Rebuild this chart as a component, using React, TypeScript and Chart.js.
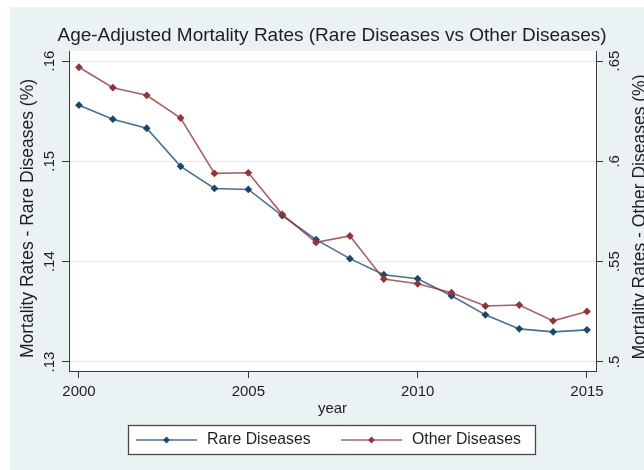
import React, { useEffect, useRef } from 'react';
import { Chart, registerables } from 'chart.js';

Chart.register(...registerables);

// ---- data ----
const YEARS = [2000, 2001, 2002, 2003, 2004, 2005, 2006, 2007, 2008, 2009, 2010, 2011, 2012, 2013, 2014, 2015];
const RARE = [0.1556, 0.1542, 0.1533, 0.1495, 0.1473, 0.1472, 0.1446, 0.1422, 0.1403, 0.1387, 0.1383, 0.1366, 0.1347, 0.1333, 0.1330, 0.1332];
const OTHER = [0.6469, 0.6367, 0.6329, 0.6216, 0.5940, 0.5943, 0.5736, 0.5596, 0.5628, 0.5413, 0.5390, 0.5345, 0.5279, 0.5284, 0.5205, 0.5252];
const X_TICKS = [2000, 2005, 2010, 2015];
const LEFT_TICKS = [0.13, 0.14, 0.15, 0.16];
const RIGHT_TICKS = [0.5, 0.55, 0.6, 0.65];
const SERIES_NAMES = ['Rare Diseases', 'Other Diseases'];
const TITLE = 'Age-Adjusted Mortality Rates (Rare Diseases vs Other Diseases)';
const X_TITLE = 'year';
const LEFT_TITLE = 'Mortality Rates - Rare Diseases (%)';
const RIGHT_TITLE = 'Mortality Rates - Other Diseases (%)';

// ---- styles ----
const FONT = '"Liberation Sans", Arial, Helvetica, sans-serif';
const BLUE = '#1a476f';
const RED = '#90353b';
const BLUE_LINE = 'rgba(26,71,111,0.78)';
const RED_LINE = 'rgba(144,53,59,0.78)';
const BG = '#eaf2f3';
const TEXT = '#1c1f26';
const AXIS = '#3a3a3a';

const fmtDec = (v: number) => String(v).replace(/^0\./, '.');

const backgroundPlugin = {
  id: 'stataBackground',
  beforeDraw(chart: any) {
    const { ctx, chartArea } = chart;
    ctx.save();
    ctx.fillStyle = '#ffffff';
    ctx.fillRect(0, 0, chart.width, chart.height);
    ctx.fillStyle = BG;
    ctx.fillRect(10, 7, chart.width - 10, chart.height - 7);
    ctx.fillStyle = '#ffffff';
    ctx.fillRect(chartArea.left, chartArea.top, chartArea.right - chartArea.left, chartArea.bottom - chartArea.top);
    ctx.restore();
  },
};

const decorPlugin = {
  id: 'stataDecor',
  afterDraw(chart: any) {
    const { ctx } = chart;
    ctx.save();
    // y-axis titles (both read bottom-to-top)
    ctx.fillStyle = TEXT;
    ctx.font = `17.5px ${FONT}`;
    ctx.textAlign = 'center';
    ctx.textBaseline = 'middle';
    const drawVert = (text: string, x: number, y: number) => {
      ctx.save();
      ctx.translate(x, y);
      ctx.rotate(-Math.PI / 2);
      ctx.fillText(text, 0, 0);
      ctx.restore();
    };
    drawVert(LEFT_TITLE, 28.5, 218.5);
    drawVert(RIGHT_TITLE, 640, 217);

    // legend
    const bx = 128.5, by = 425.5, bw = 407, bh = 29;
    ctx.fillStyle = '#ffffff';
    ctx.fillRect(bx, by, bw, bh);
    ctx.strokeStyle = '#4a4a4a';
    ctx.lineWidth = 1.3;
    ctx.strokeRect(bx, by, bw, bh);
    const cy = 440;
    const starts = [136, 341];
    chart.data.datasets.forEach((ds: any, i: number) => {
      const x0 = starts[i];
      const x1 = x0 + 61;
      ctx.strokeStyle = ds.borderColor;
      ctx.lineWidth = 1.4;
      ctx.beginPath();
      ctx.moveTo(x0, cy);
      ctx.lineTo(x1, cy);
      ctx.stroke();
      const mx = (x0 + x1) / 2;
      const r = 3.4;
      ctx.fillStyle = ds.pointBackgroundColor;
      ctx.beginPath();
      ctx.moveTo(mx, cy - r);
      ctx.lineTo(mx + r, cy);
      ctx.lineTo(mx, cy + r);
      ctx.lineTo(mx - r, cy);
      ctx.closePath();
      ctx.fill();
      ctx.fillStyle = TEXT;
      ctx.font = `15.8px ${FONT}`;
      ctx.textAlign = 'left';
      ctx.textBaseline = 'middle';
      ctx.fillText(ds.label, x1 + 10, cy);
    });
    ctx.restore();
  },
};

export default function App() {
  const canvasRef = useRef<HTMLCanvasElement | null>(null);

  useEffect(() => {
    document.body.style.margin = '0';
    const canvas = canvasRef.current;
    if (!canvas) return;

    const rarePts = YEARS.map((x, i) => ({ x, y: RARE[i] }));
    const otherPts = YEARS.map((x, i) => ({ x, y: OTHER[i] }));

    const chart = new Chart(canvas, {
      type: 'line',
      data: {
        datasets: [
          {
            label: SERIES_NAMES[0],
            data: rarePts,
            yAxisID: 'y',
            borderColor: BLUE_LINE,
            borderWidth: 1.6,
            pointStyle: 'rectRot',
            pointRadius: 3.9,
            pointBorderWidth: 0,
            pointBackgroundColor: BLUE,
            pointBorderColor: BLUE,
            tension: 0,
            fill: false,
            order: 1,
          },
          {
            label: SERIES_NAMES[1],
            data: otherPts,
            yAxisID: 'y1',
            borderColor: RED_LINE,
            borderWidth: 1.6,
            pointStyle: 'rectRot',
            pointRadius: 3.9,
            pointBorderWidth: 0,
            pointBackgroundColor: RED,
            pointBorderColor: RED,
            tension: 0,
            fill: false,
            order: 0,
          },
        ],
      },
      options: {
        responsive: false,
        animation: false,
        devicePixelRatio: 1,
        layout: { padding: { left: 20, right: 0, top: 0, bottom: 0 } },
        plugins: {
          legend: { display: false },
          tooltip: { enabled: false },
          title: {
            display: true,
            text: TITLE,
            color: TEXT,
            font: { family: FONT, size: 19, weight: 'normal', lineHeight: 1.2 },
            padding: { top: 24.6, bottom: 3.6 },
          },
        },
        scales: {
          x: {
            type: 'linear',
            position: 'bottom',
            min: 1999.705,
            max: 2015.266,
            afterBuildTicks: (s: any) => { s.ticks = X_TICKS.map((v) => ({ value: v })); },
            afterFit: (s: any) => { s.height = 99; },
            grid: { display: true, drawOnChartArea: false, drawTicks: true, tickLength: 7, tickColor: AXIS, tickWidth: 1 },
            border: { display: true, color: AXIS, width: 1 },
            ticks: {
              color: TEXT,
              font: { family: FONT, size: 15 },
              padding: 5,
              maxRotation: 0,
              minRotation: 0,
              callback: (v: any) => String(v),
            },
            title: {
              display: true,
              text: X_TITLE,
              color: TEXT,
              font: { family: FONT, size: 15, lineHeight: 1.2 },
              padding: { top: 0, bottom: 52 },
            },
          },
          y: {
            type: 'linear',
            position: 'left',
            min: 0.1291,
            max: 0.16100,
            afterBuildTicks: (s: any) => { s.ticks = LEFT_TICKS.map((v) => ({ value: v })); },
            afterFit: (s: any) => { s.width = 49; },
            grid: { display: true, drawOnChartArea: true, color: '#e3ecee', lineWidth: 1, drawTicks: true, tickLength: 7, tickColor: AXIS, tickWidth: 1 },
            border: { display: true, color: AXIS, width: 1 },
            ticks: {
              color: TEXT,
              font: { family: FONT, size: 15 },
              padding: 2,
              minRotation: 90,
              maxRotation: 90,
              crossAlign: 'center',
              callback: (v: any) => fmtDec(v),
            },
          },
          y1: {
            type: 'linear',
            position: 'right',
            min: 0.49551,
            max: 0.65499,
            afterBuildTicks: (s: any) => { s.ticks = RIGHT_TICKS.map((v) => ({ value: v })); },
            afterFit: (s: any) => { s.width = 48; },
            grid: { display: true, drawOnChartArea: false, drawTicks: true, tickLength: 7, tickColor: AXIS, tickWidth: 1 },
            border: { display: true, color: AXIS, width: 1 },
            ticks: {
              color: TEXT,
              font: { family: FONT, size: 15 },
              padding: 1.5,
              minRotation: 90,
              maxRotation: 90,
              crossAlign: 'center',
              callback: (v: any) => fmtDec(v),
            },
          },
        },
      } as any,
      plugins: [backgroundPlugin, decorPlugin],
    });

    return () => chart.destroy();
  }, []);

  return (
    <div style={{ width: 644, height: 470 }}>
      <canvas ref={canvasRef} width={644} height={470} style={{ display: 'block' }} />
    </div>
  );
}
